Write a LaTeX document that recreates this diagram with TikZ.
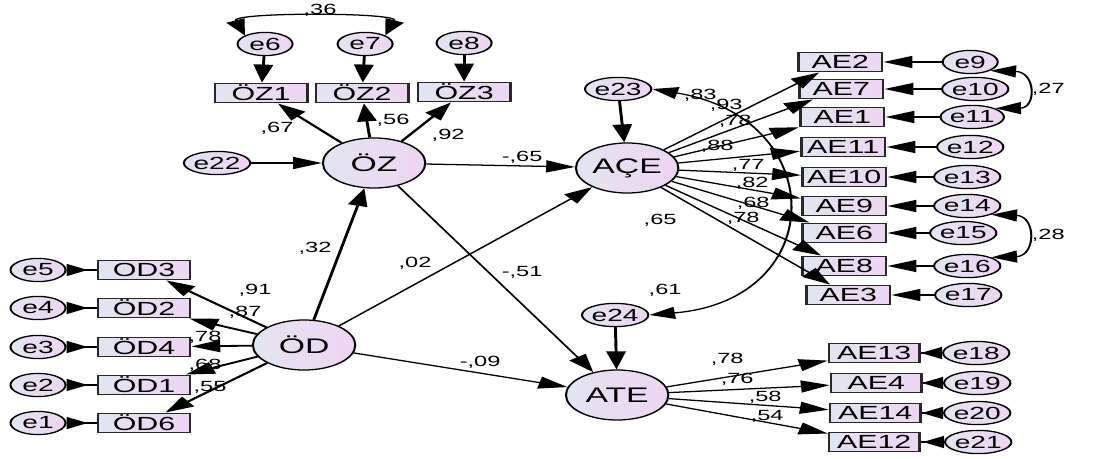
\documentclass[tikz,border=0pt]{standalone}
\usepackage{fontspec}
\usepackage{tikz}
\usetikzlibrary{arrows.meta, shapes.geometric}
\setmainfont{Liberation Sans}
\definecolor{fillA}{RGB}{226,229,241}
\definecolor{fillB}{RGB}{238,213,242}
\definecolor{edgegray}{RGB}{40,40,40}

\begin{document}
\begin{tikzpicture}[
  x=0.025cm, y=-0.025cm,
  latent/.style={ellipse, draw, line width=0.9pt, left color=fillA, right color=fillB,
    minimum width=1.6cm, minimum height=1.25cm, inner sep=0pt,
    font=\fontsize{15}{15}\selectfont},
  err/.style={ellipse, draw, line width=0.9pt, left color=fillA, right color=fillB,
    minimum width=0.86cm, minimum height=0.58cm, inner sep=0pt,
    font=\fontsize{12.5}{12.5}\selectfont},
  indicator/.style={rectangle, draw=edgegray, line width=1.2pt, left color=fillA, right color=fillB,
    minimum width=1.44cm, minimum height=0.48cm, inner sep=0pt,
    font=\fontsize{13.5}{13.5}\selectfont},
  narrow/.style={minimum width=1.31cm},
  coef/.style={inner sep=0pt, font=\fontsize{10.5}{10.5}\selectfont},
  arrow/.style={-{Triangle[length=0.45cm, width=0.3cm]}, line width=0.9pt},
  thickarrow/.style={arrow, line width=1.3pt},
  errarrow/.style={{Triangle[reversed, length=0.33cm, width=0.3cm]}-, line width=0.9pt},
  cov/.style={{Triangle[length=0.4cm, width=0.3cm]}-{Triangle[length=0.4cm, width=0.3cm]}, line width=0.9pt}
]
  \useasboundingbox (0,0) rectangle (1111,459);
  \begin{scope}[transform canvas={xscale=1.6}, x=0.015625cm]

  % Latent variables
  \node[latent] (oz) at (374,163) {ÖZ};
  \node[latent] (od) at (304,345) {ÖD};
  \node[latent] (ace) at (627,168) {AÇE};
  \node[latent] (ate) at (617,395) {ATE};

  % ÖZ block
  \node[indicator] (oz1) at (261,93) {ÖZ1};
  \node[indicator] (oz2) at (362,93) {ÖZ2};
  \node[indicator] (oz3) at (464,92) {ÖZ3};
  \node[err] (e6) at (265,44) {e6};
  \node[err] (e7) at (365,44) {e7};
  \node[err] (e8) at (464,43) {e8};
  \node[err] (e22) at (217,163) {e22};

  % ÖD block
  \node[indicator] (od3) at (144,270) {OD3};
  \node[indicator] (od2) at (144,308) {ÖD2};
  \node[indicator] (od4) at (144,347) {ÖD4};
  \node[indicator] (od1) at (144,385) {ÖD1};
  \node[indicator] (od6) at (144,423) {ÖD6};
  \node[err] (e5) at (38,270) {e5};
  \node[err] (e4) at (38,308) {e4};
  \node[err] (e3) at (38,347) {e3};
  \node[err] (e2) at (38,385) {e2};
  \node[err] (e1) at (38,423) {e1};

  % AÇE block
  \node[err] (e23) at (618,89) {e23};
  \node[indicator, narrow] (ae2) at (840,62) {AE2};
  \node[indicator, narrow] (ae7) at (841,89) {AE7};
  \node[indicator, narrow] (ae1) at (842,117) {AE1};
  \node[indicator, narrow] (ae11) at (843,147) {AE11};
  \node[indicator, narrow] (ae10) at (844,177) {AE10};
  \node[indicator, narrow] (ae9) at (844,206) {AE9};
  \node[indicator, narrow] (ae6) at (844,233) {AE6};
  \node[indicator, narrow] (ae8) at (844,266) {AE8};
  \node[indicator, narrow] (ae3) at (848,295) {AE3};
  \node[err] (e9) at (970,62) {e9};
  \node[err] (e10) at (975,89) {e10};
  \node[err] (e11) at (972,117) {e11};
  \node[err] (e12) at (970,147) {e12};
  \node[err] (e13) at (967,177) {e13};
  \node[err] (e14) at (967,206) {e14};
  \node[err] (e15) at (963,233) {e15};
  \node[err] (e16) at (967,266) {e16};
  \node[err] (e17) at (968,295) {e17};

  % ATE block
  \node[err] (e24) at (615,315) {e24};
  \node[indicator, minimum width=1.41cm] (ae13) at (874,353) {AE13};
  \node[indicator, minimum width=1.41cm] (ae4) at (876,383) {AE4};
  \node[indicator, minimum width=1.41cm] (ae14) at (875,413) {AE14};
  \node[indicator, minimum width=1.41cm] (ae12) at (874,442) {AE12};
  \node[err] (e18) at (976,353) {e18};
  \node[err] (e19) at (977,383) {e19};
  \node[err] (e20) at (977,413) {e20};
  \node[err] (e21) at (978,442) {e21};

  % Measurement paths
  \draw[thickarrow] (oz) -- (oz1);
  \draw[thickarrow] (oz) -- (oz2);
  \draw[thickarrow] (oz) -- (oz3);
  \draw[thickarrow] (e6) -- (oz1);
  \draw[thickarrow] (e7) -- (oz2);
  \draw[thickarrow] (e8) -- (oz3);
  \draw[arrow] (e22) -- (oz);
  \draw[thickarrow] (od) -- (od3);
  \draw[thickarrow] (od) -- (od2);
  \draw[thickarrow] (od) -- (od4);
  \draw[thickarrow] (od) -- (od1);
  \draw[thickarrow] (od) -- (od6);
  \draw[errarrow] (e5) -- (od3);
  \draw[errarrow] (e4) -- (od2);
  \draw[errarrow] (e3) -- (od4);
  \draw[errarrow] (e2) -- (od1);
  \draw[errarrow] (e1) -- (od6);
  \draw[thickarrow] (e23) -- (ace);
  \draw[thickarrow] (e24) -- (ate);
  \draw[arrow] (ace) -- (ae2);
  \draw[arrow] (ace) -- (ae7);
  \draw[arrow] (ace) -- (ae1);
  \draw[arrow] (ace) -- (ae11);
  \draw[arrow] (ace) -- (ae10);
  \draw[arrow] (ace) -- (ae9);
  \draw[arrow] (ace) -- (ae6);
  \draw[arrow] (ace) -- (ae8);
  \draw[arrow] (ace) -- (ae3);
  \draw[arrow] (e9) -- (ae2);
  \draw[arrow] (e10) -- (ae7);
  \draw[arrow] (e11) -- (ae1);
  \draw[arrow] (e12) -- (ae11);
  \draw[arrow] (e13) -- (ae10);
  \draw[arrow] (e14) -- (ae9);
  \draw[arrow] (e15) -- (ae6);
  \draw[arrow] (e16) -- (ae8);
  \draw[arrow] (e17) -- (ae3);
  \draw[arrow] (ate) -- (ae13);
  \draw[arrow] (ate) -- (ae4);
  \draw[arrow] (ate) -- (ae14);
  \draw[arrow] (ate) -- (ae12);
  \draw[errarrow] (e18) -- (ae13);
  \draw[errarrow] (e19) -- (ae4);
  \draw[errarrow] (e20) -- (ae14);
  \draw[errarrow] (e21) -- (ae12);

  % Structural paths
  \draw[thickarrow] (od) -- (oz);
  \draw[arrow] (od) -- (ace);
  \draw[arrow] (od) -- (ate);
  \draw[arrow] (oz) -- (ace);
  \draw[arrow] (oz) -- (ate);

  % Covariances
  \draw[cov] (e6.north west) .. controls (230,12) and (400,12) .. (e7.north east);
  \draw[cov] (e9.south east) .. controls (1036,72) and (1036,108) .. (e11.north east);
  \draw[cov] (e14.south east) .. controls (1036,216) and (1036,256) .. (e16.north east);
  \draw[cov] (e23.east) .. controls (830,118) and (830,300) .. (e24.east);

  % Coefficients
  \node[coef] (c36) at (320,10) {,36};
  \node[coef] (c67) at (277,128) {,67};
  \node[coef] (c56) at (393,120) {,56};
  \node[coef] (c92) at (448,135) {,92};
  \node[coef] (c32) at (315,248) {,32};
  \node[coef] (c91) at (255,290) {,91};
  \node[coef] (c87) at (245,312) {,87};
  \node[coef] (c78a) at (205,337) {,78};
  \node[coef] (c68a) at (205,365) {,68};
  \node[coef] (c55) at (210,387) {,55};
  \node[coef] (c02) at (415,263) {,02};
  \node[coef] (c51) at (522,272) {-,51};
  \node[coef] (c09) at (480,362) {-,09};
  \node[coef] (c65a) at (522,157) {-,65};
  \node[coef] (c83) at (700,95) {,83};
  \node[coef] (c93) at (726,105) {,93};
  \node[coef] (c78b) at (735,121) {,78};
  \node[coef] (c88) at (717,146) {,88};
  \node[coef] (c77) at (748,165) {,77};
  \node[coef] (c82) at (752,183) {,82};
  \node[coef] (c68b) at (753,203) {,68};
  \node[coef] (c78c) at (743,218) {,78};
  \node[coef] (c65b) at (660,220) {,65};
  \node[coef] (c61) at (665,290) {,61};
  \node[coef] (c27) at (1048,89) {,27};
  \node[coef] (c28) at (1048,235) {,28};
  \node[coef] (c78d) at (727,359) {,78};
  \node[coef] (c76) at (737,379) {,76};
  \node[coef] (c58) at (765,397) {,58};
  \node[coef] (c54) at (767,416) {,54};
  \end{scope}
\end{tikzpicture}
\end{document}
